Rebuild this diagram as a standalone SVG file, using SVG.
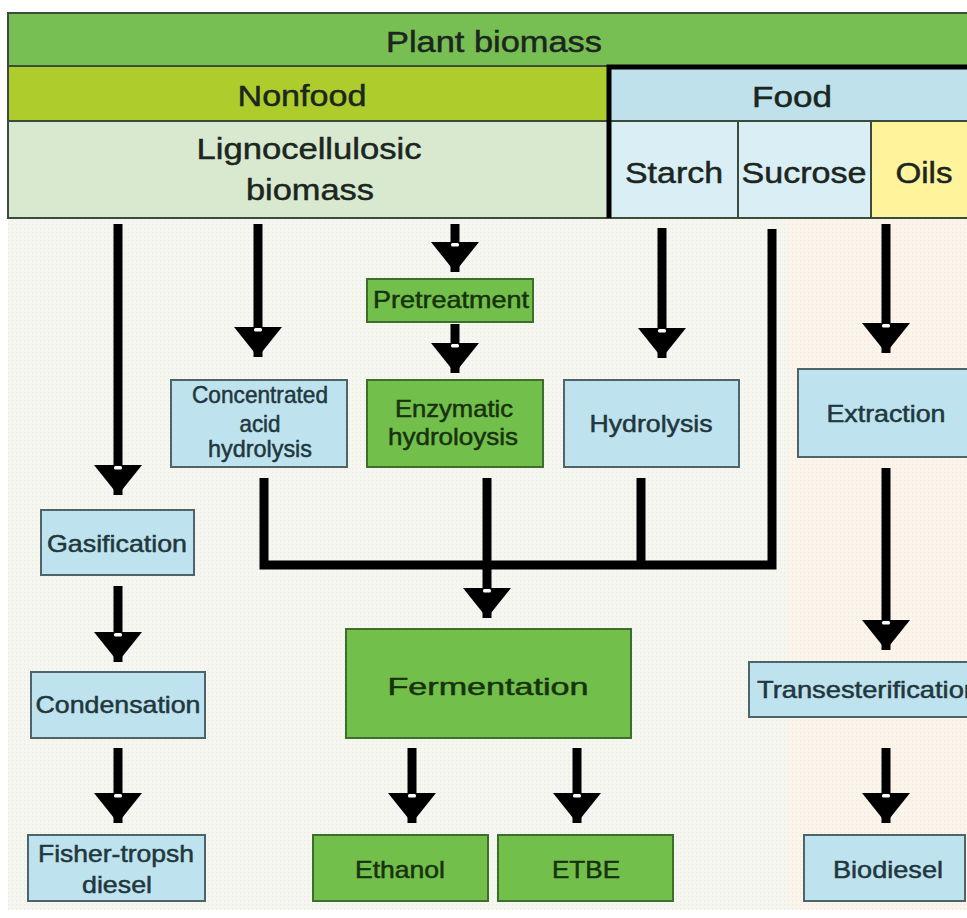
<svg xmlns="http://www.w3.org/2000/svg" width="967" height="918" viewBox="0 0 967 918">
<defs>
<pattern id="dots" width="4" height="4" patternUnits="userSpaceOnUse">
<rect x="0" y="0" width="1.2" height="1.2" fill="#e4e4dc"/>
</pattern>
<marker id="ah" markerUnits="userSpaceOnUse" viewBox="0 0 30 48" markerWidth="30" markerHeight="48" refX="30" refY="24" orient="auto">
<path d="M0,0 L30,24 L0,48 Z" fill="#000"/>
<rect x="1" y="20" width="3.5" height="8" rx="1.5" fill="#fff"/>
</marker>
<style>
text{font-family:"Liberation Sans",Arial,Helvetica,sans-serif;text-anchor:middle;stroke-width:0.5px}
.hdr{font-size:30px;fill:#1c2620;stroke:#1c2620}
.cell{stroke:#3c4c3a;stroke-width:2}
.blue{fill:#bfe3ee;stroke:#4f6468;stroke-width:2}
.green{fill:#72bf4b;stroke:#3f6e2c;stroke-width:2}
.bt{font-size:24px;fill:#21373d;stroke:#21373d}
.gt{font-size:24px;fill:#17320e;stroke:#17320e}
.shaft{stroke:#000;stroke-width:9;fill:none}
.arr{stroke:#000;stroke-width:9;fill:none;marker-end:url(#ah)}
</style>
</defs>
<rect x="0" y="0" width="967" height="918" fill="#ffffff"/>
<rect x="8" y="218" width="959" height="692" fill="#f6f6f1"/>
<rect x="790" y="218" width="177" height="692" fill="#fcf4ea"/>
<rect x="8" y="218" width="959" height="692" fill="url(#dots)" opacity="0.6"/>

<g id="plant-biomass">
<rect class="cell" x="8" y="13" width="964" height="53" fill="#77bf52"/>
<text class="hdr" x="494" y="52" textLength="216" lengthAdjust="spacingAndGlyphs">Plant biomass</text>
</g>
<g id="nonfood">
<rect class="cell" x="8" y="66" width="601" height="55" fill="#aecd2c"/>
<text class="hdr" x="302" y="106" font-size="29" textLength="129" lengthAdjust="spacingAndGlyphs">Nonfood</text>
</g>
<g id="lignocellulosic">
<rect class="cell" x="8" y="121" width="601" height="97" fill="#d9e9d0"/>
<text class="hdr" x="309" y="159" font-size="33" textLength="225" lengthAdjust="spacingAndGlyphs">Lignocellulosic</text>
<text class="hdr" x="310" y="200" font-size="33" textLength="128" lengthAdjust="spacingAndGlyphs">biomass</text>
</g>
<g id="food">
<rect class="cell" x="609" y="67" width="363" height="54" fill="#bfe1eb"/>
<text class="hdr" x="792" y="107" font-size="29" textLength="80" lengthAdjust="spacingAndGlyphs">Food</text>
</g>
<g id="starch">
<rect class="cell" x="609" y="121" width="129" height="97" fill="#d9eef5"/>
<text class="hdr" x="674" y="183" font-size="31" textLength="98" lengthAdjust="spacingAndGlyphs">Starch</text>
</g>
<g id="sucrose">
<rect class="cell" x="738" y="121" width="133" height="97" fill="#d9eef5"/>
<text class="hdr" x="804" y="183" font-size="31" textLength="125" lengthAdjust="spacingAndGlyphs">Sucrose</text>
</g>
<g id="oils">
<rect class="cell" x="871" y="121" width="101" height="97" fill="#fff39c"/>
<text class="hdr" x="924" y="183" font-size="31" textLength="57" lengthAdjust="spacingAndGlyphs">Oils</text>
</g>
<path d="M609,218 V67 H972" stroke="#000" stroke-width="5" fill="none"/>

<g id="connectors">
<line class="arr" x1="118" y1="224" x2="118" y2="495"/>
<line class="arr" x1="258" y1="224" x2="258" y2="357"/>
<line class="arr" x1="455" y1="224" x2="455" y2="272"/>
<line class="arr" x1="455" y1="324" x2="455" y2="373"/>
<line class="arr" x1="662" y1="228" x2="662" y2="358"/>
<line class="arr" x1="886" y1="224" x2="886" y2="353"/>
<path class="shaft" d="M264,478 V565 H772 V229"/>
<path class="shaft" d="M641,478 V565"/>
<line class="arr" x1="487" y1="478" x2="487" y2="618"/>
<line class="arr" x1="886" y1="468" x2="886" y2="650"/>
<line class="arr" x1="886" y1="748" x2="886" y2="823"/>
<line class="arr" x1="118" y1="586" x2="118" y2="662"/>
<line class="arr" x1="118" y1="748" x2="118" y2="823"/>
<line class="arr" x1="412" y1="748" x2="412" y2="823"/>
<line class="arr" x1="577" y1="748" x2="577" y2="823"/>
</g>

<g id="pretreatment">
<rect class="green" x="367" y="279" width="166" height="43"/>
<text class="gt" x="451" y="308" font-size="22" textLength="156" lengthAdjust="spacingAndGlyphs">Pretreatment</text>
</g>
<g id="concentrated-acid-hydrolysis">
<rect class="blue" x="171" y="380" width="176" height="87"/>
<text class="bt" x="260" y="403" font-size="21" textLength="136" lengthAdjust="spacingAndGlyphs">Concentrated</text>
<text class="bt" x="260" y="432" font-size="21" textLength="41" lengthAdjust="spacingAndGlyphs">acid</text>
<text class="bt" x="260" y="457" font-size="21" textLength="104" lengthAdjust="spacingAndGlyphs">hydrolysis</text>
</g>
<g id="enzymatic-hydroloysis">
<rect class="green" x="367" y="380" width="176" height="87"/>
<text class="gt" x="454" y="417" font-size="23" textLength="118" lengthAdjust="spacingAndGlyphs">Enzymatic</text>
<text class="gt" x="453" y="445" font-size="23" textLength="130" lengthAdjust="spacingAndGlyphs">hydroloysis</text>
</g>
<g id="hydrolysis">
<rect class="blue" x="564" y="380" width="175" height="87"/>
<text class="bt" x="651" y="432" textLength="123" lengthAdjust="spacingAndGlyphs">Hydrolysis</text>
</g>
<g id="extraction">
<rect class="blue" x="798" y="369" width="174" height="88"/>
<text class="bt" x="886" y="422" textLength="119" lengthAdjust="spacingAndGlyphs">Extraction</text>
</g>
<g id="gasification">
<rect class="blue" x="41" y="510" width="153" height="65"/>
<text class="bt" x="117" y="552" textLength="140" lengthAdjust="spacingAndGlyphs">Gasification</text>
</g>
<g id="condensation">
<rect class="blue" x="31" y="672" width="174" height="66"/>
<text class="bt" x="118" y="713" textLength="165" lengthAdjust="spacingAndGlyphs">Condensation</text>
</g>
<g id="fisher-tropsh-diesel">
<rect class="blue" x="28" y="835" width="177" height="66"/>
<text class="bt" x="116" y="862" textLength="156" lengthAdjust="spacingAndGlyphs">Fisher-tropsh</text>
<text class="bt" x="117" y="893" textLength="70" lengthAdjust="spacingAndGlyphs">diesel</text>
</g>
<g id="fermentation">
<rect class="green" x="346" y="629" width="285" height="109"/>
<text class="gt" x="488" y="695" font-size="33" textLength="201" lengthAdjust="spacingAndGlyphs">Fermentation</text>
</g>
<g id="ethanol">
<rect class="green" x="313" y="835" width="175" height="66"/>
<text class="gt" x="400" y="878" textLength="90" lengthAdjust="spacingAndGlyphs">Ethanol</text>
</g>
<g id="etbe">
<rect class="green" x="498" y="835" width="175" height="66"/>
<text class="gt" x="586" y="878" textLength="68" lengthAdjust="spacingAndGlyphs">ETBE</text>
</g>
<g id="transesterification">
<rect class="blue" x="749" y="662" width="223" height="55"/>
<text class="bt" x="757" y="698" font-size="25" style="text-anchor:start" textLength="222" lengthAdjust="spacingAndGlyphs">Transesterification</text>
</g>
<g id="biodiesel">
<rect class="blue" x="804" y="835" width="161" height="66"/>
<text class="bt" x="888" y="878" font-size="25" textLength="110" lengthAdjust="spacingAndGlyphs">Biodiesel</text>
</g>
</svg>
